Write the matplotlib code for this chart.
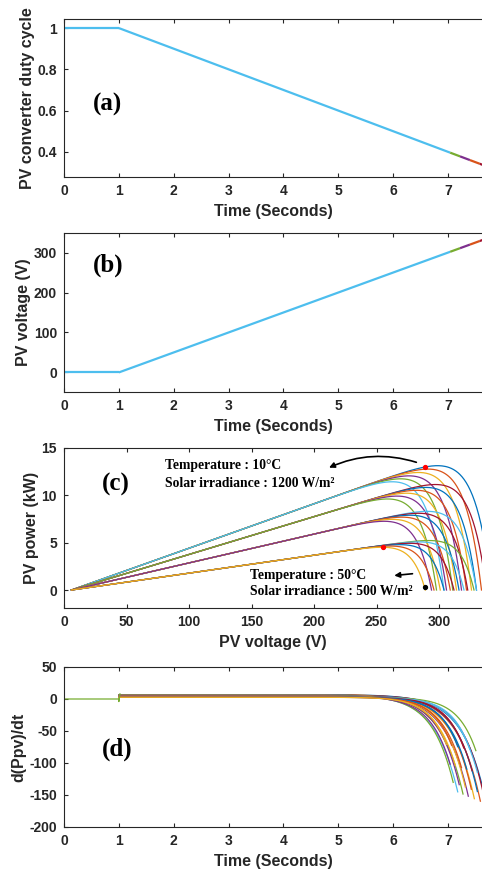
import numpy as np
import matplotlib
matplotlib.use("Agg")
import matplotlib.pyplot as plt

plt.rcParams["axes.unicode_minus"] = False

# matlab default colour order
mcol = ["#0072BD", "#D95319", "#EDB120", "#7E2F8E", "#77AC30", "#4DBEEE", "#A2142F"]
light_blue = "#4DBEEE"

# (a) + (b) time breakpoints, last pieces change colour
t_pts = [0, 1, 7.04, 7.22, 7.40, 7.58, 7.70]
duty = [1.0, 1.0, 0.396, 0.378, 0.360, 0.342, 0.330]
pv_volt = [0, 0, 302, 311, 320, 329, 335]
seg_col = [light_blue, light_blue, mcol[4], mcol[3], mcol[1], mcol[6]]

# (c) PV curves: one row per irradiance, one column per temperature
irr = [1200, 1000, 800, 500]
temps = [10, 18, 26, 34, 42, 50]
isc = [0.047, 0.040, 0.0305, 0.019]   # kA
voc = [[342, 334, 326, 318, 311, 304],
       [338, 330, 322, 314, 306, 298],
       [330, 323, 316, 309, 301, 294],
       [328, 320, 312, 304, 296, 289]]
vt = [14, 13, 12.5, 11]
v_start = 6
red_dots_v = [289, 255]
red_dots_p = [13.0, 4.55]
black_dot = (289, 0.3)

# (d) sweep of the same curves in time
t_shift = 2.99
rate_spread = 72.6   # where each curve ends
rate_knee = 32       # sweep speed near the knee
d_scale = 145
t_pre = [0, 1, 1, 1.02]
d_pre = [0, 0, -4, 8]

tick_font = {"family": "Liberation Sans", "weight": "bold", "size": 10}
lab_font = {"family": "Liberation Sans", "weight": "bold", "size": 11.5}
panel_font = {"family": "Liberation Serif", "weight": "bold", "size": 18}
note_font = {"family": "Liberation Serif", "weight": "bold", "size": 9.8}
txt_col = "#262626"

fig = plt.figure(figsize=(4.82, 8.73), dpi=100)
left, width = 64 / 482, 418 / 482
ax_a = fig.add_axes([left, 1 - 177 / 873, width, 158 / 873])
ax_b = fig.add_axes([left, 1 - 392 / 873, width, 159 / 873])
ax_c = fig.add_axes([left, 1 - 608 / 873, width, 160 / 873])
ax_d = fig.add_axes([left, 1 - 827 / 873, width, 160 / 873])


def style(ax, xlab, ylab):
    for s in ["left", "bottom", "top"]:
        ax.spines[s].set_color("#262626")
        ax.spines[s].set_linewidth(0.8)
    ax.spines["right"].set_visible(False)
    ax.tick_params(direction="in", top=True, right=False, length=3,
                   colors="#262626", width=0.8, pad=5)
    for lab in ax.get_xticklabels() + ax.get_yticklabels():
        lab.set_fontfamily(tick_font["family"])
        lab.set_fontweight("bold")
        lab.set_fontsize(tick_font["size"])
        lab.set_color(txt_col)
    ax.set_xlabel(xlab, color=txt_col, labelpad=4.5, **lab_font)
    ax.set_ylabel(ylab, color=txt_col, labelpad=2, **lab_font)


# (a)
for i in range(len(t_pts) - 1):
    ax_a.plot(t_pts[i:i + 2], duty[i:i + 2], color=seg_col[i], lw=1.6, solid_capstyle="butt")
ax_a.set_xlim(0, 7.62)
ax_a.set_ylim(0.278, 1.044)
ax_a.set_xticks(range(8))
ax_a.set_yticks([0.4, 0.6, 0.8, 1.0])
ax_a.set_yticklabels(["0.4", "0.6", "0.8", "1"])
ax_a.text(0.8, 0.63, "(a)", ha="center", va="center", **panel_font)
style(ax_a, "Time (Seconds)", "PV converter duty cycle")

# (b)
for i in range(len(t_pts) - 1):
    ax_b.plot(t_pts[i:i + 2], pv_volt[i:i + 2], color=seg_col[i], lw=1.6, solid_capstyle="butt")
ax_b.set_xlim(0, 7.62)
ax_b.set_ylim(-49, 349)
ax_b.set_xticks(range(8))
ax_b.set_yticks([0, 100, 200, 300])
ax_b.text(0.8, 269, "(b)", ha="center", va="center", **panel_font)
style(ax_b, "Time (Seconds)", "PV voltage (V)")

# (c) and (d)
k = 0
for g in range(len(irr)):
    for j in range(len(temps)):
        c = mcol[k % 7]
        vo = voc[g][j]
        v = np.linspace(v_start, vo, 400)
        e = np.exp((v - vo) / vt[g])
        p = (v - v_start) * isc[g] * (1 - e)
        ax_c.plot(v, p, color=c, lw=0.9)
        t_end = t_shift + vo / rate_spread
        t = np.linspace(1.0, t_end, 500)
        vv = vo + (t - t_end) * rate_knee
        ee = np.exp((vv - vo) / vt[g])
        d = d_scale * (isc[g] * (1 - ee) - (vv - v_start) * isc[g] / vt[g] * ee)
        ax_d.plot(t, d, color=c, lw=0.9)
        k += 1

ax_c.plot(red_dots_v, red_dots_p, "o", color="red", ms=2.8, zorder=5)
ax_c.plot([black_dot[0]], [black_dot[1]], "o", color="black", ms=2.8, zorder=5)
ax_c.text(81, 13.2, "Temperature : 10°C", ha="left", va="center", **note_font)
ax_c.text(81, 11.3, "Solar irradiance : 1200 W/m²", ha="left", va="center", **note_font)
ax_c.text(149, 1.5, "Temperature : 50°C", ha="left", va="center", **note_font)
ax_c.text(149, -0.2, "Solar irradiance : 500 W/m²", ha="left", va="center", **note_font)
ax_c.annotate("", xy=(210, 12.8), xytext=(284, 13.4),
              arrowprops=dict(arrowstyle="-|>", color="black", lw=1.2,
                              connectionstyle="arc3,rad=0.2", mutation_scale=8))
ax_c.annotate("", xy=(262, 1.5), xytext=(281, 1.75),
              arrowprops=dict(arrowstyle="-|>", color="black", lw=1.2, mutation_scale=8))
ax_c.text(41.6, 11.1, "(c)", ha="center", va="center", **panel_font)
ax_c.set_xlim(0, 334.4)
ax_c.set_ylim(-1.9, 15)
ax_c.set_xticks(range(0, 301, 50))
ax_c.set_yticks([0, 5, 10, 15])
style(ax_c, "PV voltage (V)", "PV power (kW)")

ax_d.plot(t_pre, d_pre, color=mcol[4], lw=0.9)
ax_d.text(0.97, -78, "(d)", ha="center", va="center", **panel_font)
ax_d.set_xlim(0, 7.62)
ax_d.set_ylim(-200, 50)
ax_d.set_xticks(range(8))
ax_d.set_yticks(range(-200, 51, 50))
style(ax_d, "Time (Seconds)", "d(Ppv)/dt")

fig.savefig("out.png", dpi=100)
